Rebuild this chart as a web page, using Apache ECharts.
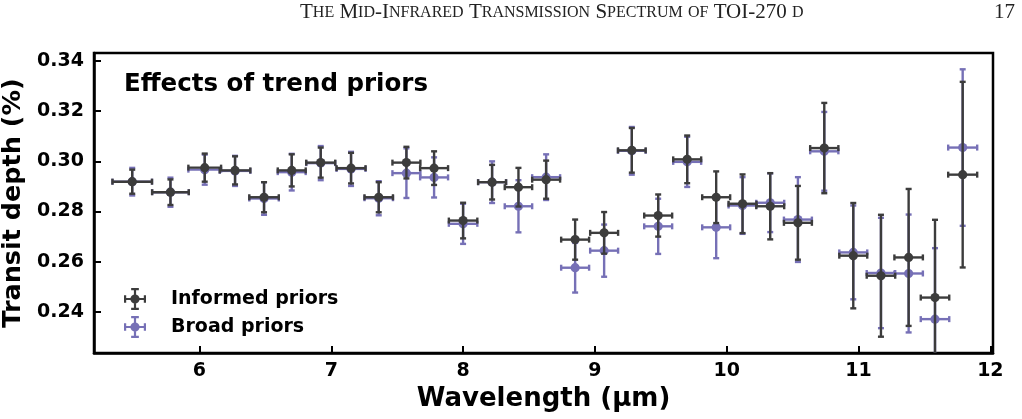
<!DOCTYPE html>
<html>
<head>
<meta charset="utf-8">
<script src="https://cdn.jsdelivr.net/npm/echarts@6/dist/echarts.min.js"></script>
<style>
  html, body { margin: 0; padding: 0; background: #fff; }
  #chart { width: 1022px; height: 419px; }
</style>
</head>
<body>
<div id="chart"></div>
<script>
// 波长 (µm) 及半宽
var wavelength = [5.49, 5.78, 6.04, 6.27, 6.49, 6.70, 6.92, 7.15, 7.36, 7.57,
                  7.78, 8.00, 8.22, 8.42, 8.63, 8.85, 9.07, 9.28, 9.48, 9.70,
                  9.92, 10.12, 10.33, 10.54, 10.74, 10.96, 11.17, 11.38, 11.58, 11.79];
var wavelengthErr = [0.150, 0.139, 0.124, 0.116, 0.112, 0.106, 0.110, 0.110, 0.108, 0.106,
                     0.106, 0.108, 0.106, 0.104, 0.106, 0.106, 0.106, 0.105, 0.106, 0.106,
                     0.106, 0.106, 0.106, 0.106, 0.107, 0.106, 0.108, 0.108, 0.108, 0.110];

// Informed priors
var informed = [0.2919, 0.2877, 0.2975, 0.2964, 0.2857, 0.2964, 0.2995, 0.2973, 0.2857, 0.2995,
                0.2973, 0.2764, 0.2917, 0.2897, 0.2927, 0.2688, 0.2715, 0.3044, 0.2784, 0.3008,
                0.2857, 0.2831, 0.2821, 0.2755, 0.3053, 0.2624, 0.2544, 0.2617, 0.2457, 0.2947];
var informedErr = [0.0048, 0.0051, 0.0056, 0.0056, 0.0060, 0.0064, 0.0060, 0.0061, 0.0060, 0.0063,
                   0.0067, 0.0071, 0.0069, 0.0077, 0.0076, 0.0080, 0.0083, 0.0089, 0.0084, 0.0095,
                   0.0103, 0.0117, 0.0132, 0.0147, 0.0180, 0.0210, 0.0243, 0.0273, 0.0310, 0.0370];

// Broad priors
var broad = [0.2919, 0.2877, 0.2967, 0.2962, 0.2852, 0.2957, 0.2993, 0.2970, 0.2853, 0.2953,
             0.2936, 0.2751, 0.2917, 0.2821, 0.2937, 0.2576, 0.2644, 0.3042, 0.2741, 0.2998,
             0.2737, 0.2824, 0.2835, 0.2768, 0.3040, 0.2637, 0.2555, 0.2553, 0.2371, 0.3055];
var broadErr = [0.0055, 0.0058, 0.0060, 0.0060, 0.0065, 0.0073, 0.0068, 0.0068, 0.0068, 0.0099,
                0.0080, 0.0080, 0.0083, 0.0104, 0.0091, 0.0099, 0.0104, 0.0095, 0.0110, 0.0100,
                0.0123, 0.0113, 0.0117, 0.0169, 0.0157, 0.0187, 0.0220, 0.0235, 0.0283, 0.0312];

var xTicks = [6, 7, 8, 9, 10, 11, 12];
var yTicks = [0.24, 0.26, 0.28, 0.30, 0.32, 0.34];

var header = 'The Mid-Infrared Transmission Spectrum of TOI-270 d';
var pageNo = '17';

var darkColor = '#3c3c3c';
var blueColor = '#7670b6';
var font = 'DejaVu Sans';

function makeData(y, yerr) {
  var d = [];
  for (var i = 0; i < wavelength.length; i++) {
    d.push([wavelength[i], y[i], wavelengthErr[i], yerr[i]]);
  }
  return d;
}

// 小型大写字母
function smallCaps(s) {
  var out = '', run = '', mode = '';
  for (var i = 0; i < s.length; i++) {
    var c = s[i];
    var m = (c >= 'a' && c <= 'z') ? 's' : 'b';
    if (m !== mode && run) { out += '{' + mode + '|' + run + '}'; run = ''; }
    mode = m;
    run += (m === 's') ? c.toUpperCase() : c;
  }
  if (run) out += '{' + mode + '|' + run + '}';
  return out;
}

function errRender(color) {
  return function (params, api) {
    var x = api.value(0), y = api.value(1), xe = api.value(2), ye = api.value(3);
    var c = api.coord([x, y]);
    var l = api.coord([x - xe, y]), r = api.coord([x + xe, y]);
    var t = api.coord([x, y + ye]), b = api.coord([x, y - ye]);
    var cap = 3;
    var st = { stroke: color, lineWidth: 2.4 };
    var line = function (x1, y1, x2, y2) {
      return { type: 'line', shape: { x1: x1, y1: y1, x2: x2, y2: y2 }, style: st };
    };
    return {
      type: 'group',
      children: [
        line(l[0], l[1], r[0], r[1]),
        line(t[0], t[1], b[0], b[1]),
        line(l[0], l[1] - cap, l[0], l[1] + cap),
        line(r[0], r[1] - cap, r[0], r[1] + cap),
        line(t[0] - cap, t[1], t[0] + cap, t[1]),
        line(b[0] - cap, b[1], b[0] + cap, b[1]),
        { type: 'circle', shape: { cx: c[0], cy: c[1], r: 4.6 }, style: { fill: color } }
      ]
    };
  };
}

var legendIcon = 'path://M0,9H20V11H0Z M9,0H11V20H9Z M0,6.5H2V13.5H0Z M18,6.5H20V13.5H18Z M6.5,0H13.5V2H6.5Z M6.5,18H13.5V20H6.5Z M14.2,10A4.2,4.2 0 1 1 5.8,10A4.2,4.2 0 1 1 14.2,10Z';

var chart = echarts.init(document.getElementById('chart'), null, { renderer: 'canvas' });

var option = {
  backgroundColor: '#fff',
  animation: false,
  title: {
    text: 'Effects of trend priors',
    left: 119,
    top: 67,
    textStyle: { fontFamily: font, fontWeight: 'bold', fontSize: 24.5, color: '#000' }
  },
  graphic: [
    {
      type: 'text',
      left: 300,
      top: 2,
      style: {
        text: smallCaps(header),
        fill: '#222',
        rich: {
          b: { fontFamily: 'Liberation Serif', fontSize: 21, fill: '#222' },
          s: { fontFamily: 'Liberation Serif', fontSize: 16, fill: '#222' }
        }
      }
    },
    {
      type: 'text',
      right: 7,
      top: 2,
      style: { text: pageNo, fontFamily: 'Liberation Serif', fontSize: 21, fill: '#222' }
    }
  ],
  legend: {
    left: 119,
    top: 283,
    orient: 'vertical',
    itemWidth: 22,
    itemHeight: 22,
    itemGap: 6,
    textStyle: { fontFamily: font, fontWeight: 'bold', fontSize: 19, color: '#000', padding: [0, 0, 0, 20] },
    data: [
      { name: 'Informed priors', icon: legendIcon, itemStyle: { color: darkColor } },
      { name: 'Broad priors', icon: legendIcon, itemStyle: { color: blueColor } }
    ]
  },
  grid: {
    left: 94, right: 29, top: 53, bottom: 66,
    outerBoundsMode: 'none',
    containLabel: false,
    show: true, borderColor: '#000', borderWidth: 2.5, backgroundColor: 'transparent'
  },
  xAxis: {
    type: 'value',
    min: 5.2,
    max: 12.02,
    name: 'Wavelength (µm)',
    nameLocation: 'middle',
    nameGap: 29,
    nameTextStyle: { fontFamily: font, fontWeight: 'bold', fontSize: 26, color: '#000' },
    splitLine: { show: false },
    axisLine: { show: true, lineStyle: { color: '#000', width: 2.5 } },
    axisTick: { show: true, inside: true, length: 7, lineStyle: { color: '#000', width: 2 }, customValues: xTicks },
    axisLabel: {
      fontFamily: font, fontWeight: 'bold', fontSize: 19, color: '#000', margin: 9,
      customValues: xTicks,
      formatter: function (v) { return String(v); }
    }
  },
  yAxis: {
    type: 'value',
    min: 0.2236,
    max: 0.3432,
    name: 'Transit depth (%)',
    nameLocation: 'middle',
    nameGap: 56,
    nameTextStyle: { fontFamily: font, fontWeight: 'bold', fontSize: 25.5, color: '#000' },
    splitLine: { show: false },
    axisLine: { show: true, lineStyle: { color: '#000', width: 2.5 } },
    axisTick: { show: true, inside: true, length: 7, lineStyle: { color: '#000', width: 2 }, customValues: yTicks },
    axisLabel: {
      fontFamily: font, fontWeight: 'bold', fontSize: 19, color: '#000', margin: 10,
      customValues: yTicks,
      formatter: function (v) { return v.toFixed(2); }
    }
  },
  series: [
    {
      name: 'Broad priors',
      type: 'custom',
      clip: true,
      renderItem: errRender(blueColor),
      itemStyle: { color: blueColor },
      encode: { x: 0, y: 1 },
      data: makeData(broad, broadErr),
      z: 2
    },
    {
      name: 'Informed priors',
      type: 'custom',
      clip: true,
      renderItem: errRender(darkColor),
      itemStyle: { color: darkColor },
      encode: { x: 0, y: 1 },
      data: makeData(informed, informedErr),
      z: 3
    }
  ]
};

chart.setOption(option);
</script>
</body>
</html>
